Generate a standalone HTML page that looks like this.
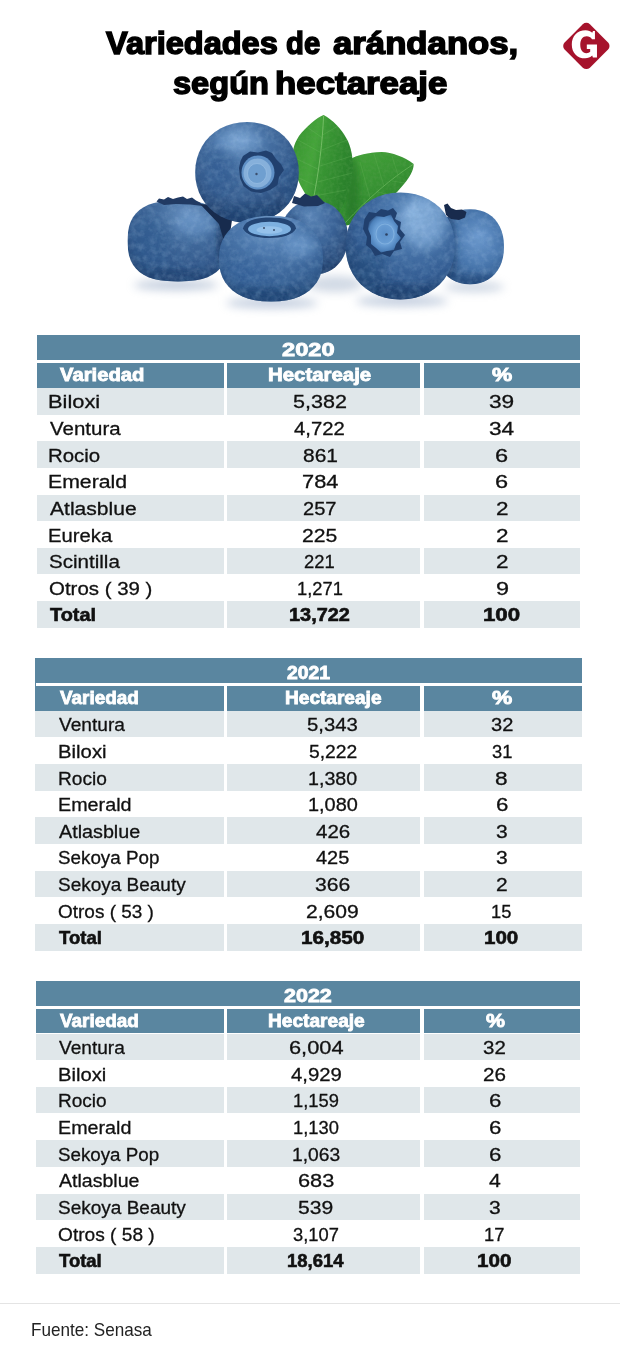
<!DOCTYPE html>
<html lang="es"><head><meta charset="utf-8"><title>Variedades de arándanos, según hectareaje</title>
<style>
html,body{margin:0;padding:0;background:#fff}
body{width:620px;height:1357px;position:relative;overflow:hidden;font-family:"Liberation Sans",sans-serif}
.t{position:absolute;line-height:1;white-space:nowrap;transform-origin:0 0}
.r{position:absolute}
svg{position:absolute;left:0;top:0}
</style></head><body>
<svg width="620" height="330" viewBox="0 0 620 330">
<defs><radialGradient id="gA" cx="0.45" cy="0.3" r="0.72" fx="0.42" fy="0.16"><stop offset="0" stop-color="#7098c6"/><stop offset="0.3" stop-color="#4a74a7"/><stop offset="0.7" stop-color="#355b8d"/><stop offset="1" stop-color="#1d3b66"/></radialGradient><radialGradient id="gB" cx="0.55" cy="0.28" r="0.8" fx="0.6" fy="0.14"><stop offset="0" stop-color="#6890c0"/><stop offset="0.35" stop-color="#446d9f"/><stop offset="0.72" stop-color="#31578a"/><stop offset="1" stop-color="#1d3d68"/></radialGradient><radialGradient id="gC" cx="0.5" cy="0.26" r="0.8" fx="0.5" fy="0.08"><stop offset="0" stop-color="#7ea6d2"/><stop offset="0.3" stop-color="#4f7bb0"/><stop offset="0.7" stop-color="#386296"/><stop offset="1" stop-color="#1f4370"/></radialGradient><radialGradient id="gD" cx="0.45" cy="0.3" r="0.8" fx="0.45" fy="0.2"><stop offset="0" stop-color="#5a84b6"/><stop offset="0.45" stop-color="#3a6296"/><stop offset="1" stop-color="#1d3a65"/></radialGradient><radialGradient id="gE" cx="0.6" cy="0.32" r="0.74" fx="0.64" fy="0.2"><stop offset="0" stop-color="#80a9d6"/><stop offset="0.3" stop-color="#4d7aaf"/><stop offset="0.7" stop-color="#335c92"/><stop offset="1" stop-color="#1c3c68"/></radialGradient><radialGradient id="gF" cx="0.6" cy="0.42" r="0.72" fx="0.62" fy="0.38"><stop offset="0" stop-color="#6e9bd0"/><stop offset="0.5" stop-color="#4876ad"/><stop offset="1" stop-color="#254b7c"/></radialGradient><radialGradient id="calE" cx="0.5" cy="0.5" r="0.55" fx="0.5" fy="0.5"><stop offset="0" stop-color="#5a8fc9"/><stop offset="0.55" stop-color="#6a9fd6"/><stop offset="0.85" stop-color="#4c80ba"/><stop offset="1" stop-color="#2b4f80"/></radialGradient><radialGradient id="cal" cx="0.5" cy="0.5" r="0.5" fx="0.5" fy="0.5"><stop offset="0" stop-color="#6a9ccf"/><stop offset="0.5" stop-color="#7fb0de"/><stop offset="0.8" stop-color="#5a8cc2"/><stop offset="1" stop-color="#2b4f80"/></radialGradient>
<linearGradient id="lf1" x1="0" y1="0" x2="1" y2="0.35"><stop offset="0" stop-color="#36912f"/><stop offset="0.42" stop-color="#45a53a"/><stop offset="0.55" stop-color="#3a9834"/><stop offset="1" stop-color="#2a812b"/></linearGradient>
<linearGradient id="lf2" x1="0.1" y1="0" x2="0.7" y2="1"><stop offset="0" stop-color="#46a53a"/><stop offset="0.55" stop-color="#369132"/><stop offset="1" stop-color="#277a28"/></linearGradient>
<filter id="b3" x="-30%" y="-30%" width="160%" height="160%"><feGaussianBlur stdDeviation="3"/></filter>
<filter id="b5" x="-40%" y="-40%" width="180%" height="180%"><feGaussianBlur stdDeviation="5"/></filter>
<filter id="b6" x="-30%" y="-80%" width="160%" height="260%"><feGaussianBlur stdDeviation="5"/></filter>
<filter id="b1" x="-20%" y="-20%" width="140%" height="140%"><feGaussianBlur stdDeviation="1"/></filter>
<filter id="texL" x="0" y="0" width="100%" height="100%"><feTurbulence type="fractalNoise" baseFrequency="0.16" numOctaves="3" seed="7" result="n"/><feColorMatrix in="n" type="matrix" values="0 0 0 0 0.62  0 0 0 0 0.80  0 0 0 0 0.98  2.0 0 0 0 -0.8"/><feComposite in2="SourceGraphic" operator="in"/></filter>
<filter id="texD" x="0" y="0" width="100%" height="100%"><feTurbulence type="fractalNoise" baseFrequency="0.13" numOctaves="3" seed="23" result="n"/><feColorMatrix in="n" type="matrix" values="0 0 0 0 0.10  0 0 0 0 0.24  0 0 0 0 0.45  0 2.2 0 0 -0.95"/><feComposite in2="SourceGraphic" operator="in"/></filter>
<filter id="lt" x="0" y="0" width="100%" height="100%"><feTurbulence type="fractalNoise" baseFrequency="0.3" numOctaves="2" seed="3" result="n"/><feColorMatrix in="n" type="matrix" values="0 0 0 0 0.1  0 0 0 0 0.35  0 0 0 0 0.08  1.5 0 0 0 -0.55"/><feComposite in2="SourceGraphic" operator="in"/></filter>

<clipPath id="cA"><path d="M298.8 172.4 L298.4 179.5 L297.1 186.1 L295.0 192.4 L292.1 198.3 L288.5 203.7 L284.1 208.5 L279.1 212.7 L273.6 216.3 L267.6 219.1 L261.1 221.1 L254.3 222.4 L247.0 222.8 L239.7 222.4 L232.9 221.1 L226.4 219.1 L220.4 216.3 L214.9 212.7 L209.9 208.5 L205.5 203.7 L201.9 198.3 L199.0 192.4 L196.9 186.1 L195.6 179.5 L195.2 172.4 L195.6 165.3 L196.9 158.7 L199.0 152.4 L201.9 146.5 L205.5 141.1 L209.9 136.3 L214.9 132.1 L220.4 128.5 L226.4 125.7 L232.9 123.7 L239.7 122.4 L247.0 122.0 L254.3 122.4 L261.1 123.7 L267.6 125.7 L273.6 128.5 L279.1 132.1 L284.1 136.3 L288.5 141.1 L292.1 146.5 L295.0 152.4 L297.1 158.7 L298.4 165.3Z"/></clipPath>
<clipPath id="cB"><path d="M228.3 241.0 L228.0 249.4 L227.0 255.3 L225.3 260.3 L223.0 264.7 L220.1 268.6 L216.5 271.9 L212.3 274.8 L207.5 277.2 L202.0 279.0 L195.8 280.3 L188.5 281.1 L178.0 281.4 L167.5 281.1 L160.2 280.3 L154.0 279.0 L148.5 277.2 L143.7 274.8 L139.5 271.9 L135.9 268.6 L133.0 264.7 L130.7 260.3 L129.0 255.3 L128.0 249.4 L127.7 241.0 L128.0 232.6 L129.0 226.7 L130.7 221.7 L133.0 217.3 L135.9 213.4 L139.5 210.1 L143.7 207.2 L148.5 204.8 L154.0 203.0 L160.2 201.7 L167.5 200.9 L178.0 200.6 L188.5 200.9 L195.8 201.7 L202.0 203.0 L207.5 204.8 L212.3 207.2 L216.5 210.1 L220.1 213.4 L223.0 217.3 L225.3 221.7 L227.0 226.7 L228.0 232.6Z"/></clipPath>
<clipPath id="cC"><path d="M323.0 258.8 L322.6 266.1 L321.5 272.0 L319.5 277.4 L316.9 282.2 L313.5 286.6 L309.5 290.5 L304.8 293.8 L299.5 296.6 L293.6 298.8 L287.1 300.3 L279.9 301.3 L271.0 301.6 L262.1 301.3 L254.9 300.3 L248.4 298.8 L242.5 296.6 L237.2 293.8 L232.5 290.5 L228.5 286.6 L225.1 282.2 L222.5 277.4 L220.5 272.0 L219.4 266.1 L219.0 258.8 L219.4 251.5 L220.5 245.6 L222.5 240.2 L225.1 235.4 L228.5 231.0 L232.5 227.1 L237.2 223.8 L242.5 221.0 L248.4 218.8 L254.9 217.3 L262.1 216.3 L271.0 216.0 L279.9 216.3 L287.1 217.3 L293.6 218.8 L299.5 221.0 L304.8 223.8 L309.5 227.1 L313.5 231.0 L316.9 235.4 L319.5 240.2 L321.5 245.6 L322.6 251.5Z"/></clipPath>
<clipPath id="cD"><path d="M348.0 237.5 L347.7 242.8 L346.9 247.7 L345.5 252.3 L343.6 256.6 L341.3 260.6 L338.4 264.1 L335.2 267.2 L331.6 269.8 L327.6 271.8 L323.4 273.3 L318.9 274.2 L314.0 274.5 L309.1 274.2 L304.6 273.3 L300.4 271.8 L296.4 269.8 L292.8 267.2 L289.6 264.1 L286.7 260.6 L284.4 256.6 L282.5 252.3 L281.1 247.7 L280.3 242.8 L280.0 237.5 L280.3 232.2 L281.1 227.3 L282.5 222.7 L284.4 218.4 L286.7 214.4 L289.6 210.9 L292.8 207.8 L296.4 205.2 L300.4 203.2 L304.6 201.7 L309.1 200.8 L314.0 200.5 L318.9 200.8 L323.4 201.7 L327.6 203.2 L331.6 205.2 L335.2 207.8 L338.4 210.9 L341.3 214.4 L343.6 218.4 L345.5 222.7 L346.9 227.3 L347.7 232.2Z"/></clipPath>
<clipPath id="cE"><path d="M455.0 246.0 L454.6 253.7 L453.2 260.7 L451.0 267.4 L448.0 273.6 L444.2 279.3 L439.6 284.4 L434.4 288.8 L428.6 292.6 L422.2 295.5 L415.4 297.7 L408.2 299.0 L400.3 299.4 L392.4 299.0 L385.2 297.7 L378.4 295.5 L372.0 292.6 L366.2 288.8 L361.0 284.4 L356.4 279.3 L352.6 273.6 L349.6 267.4 L347.4 260.7 L346.0 253.7 L345.6 246.0 L346.0 238.3 L347.4 231.3 L349.6 224.6 L352.6 218.4 L356.4 212.7 L361.0 207.6 L366.2 203.2 L372.0 199.4 L378.4 196.5 L385.2 194.3 L392.4 193.0 L400.3 192.6 L408.2 193.0 L415.4 194.3 L422.2 196.5 L428.6 199.4 L434.4 203.2 L439.6 207.6 L444.2 212.7 L448.0 218.4 L451.0 224.6 L453.2 231.3 L454.6 238.3Z"/></clipPath>
<clipPath id="cF"><path d="M504.0 246.7 L503.7 252.6 L502.9 257.7 L501.6 262.4 L499.8 266.7 L497.5 270.6 L494.8 274.1 L491.7 277.1 L488.1 279.6 L484.2 281.6 L480.0 283.0 L475.3 283.9 L470.0 284.2 L464.7 283.9 L460.0 283.0 L455.8 281.6 L451.9 279.6 L448.3 277.1 L445.2 274.1 L442.5 270.6 L440.2 266.7 L438.4 262.4 L437.1 257.7 L436.3 252.6 L436.0 246.7 L436.3 240.8 L437.1 235.7 L438.4 231.0 L440.2 226.7 L442.5 222.8 L445.2 219.3 L448.3 216.3 L451.9 213.8 L455.8 211.8 L460.0 210.4 L464.7 209.5 L470.0 209.2 L475.3 209.5 L480.0 210.4 L484.2 211.8 L488.1 213.8 L491.7 216.3 L494.8 219.3 L497.5 222.8 L499.8 226.7 L501.6 231.0 L502.9 235.7 L503.7 240.8Z"/></clipPath>
</defs>
<g filter="url(#b6)" opacity="0.5">
<ellipse cx="176" cy="285" rx="42" ry="5" fill="#8096b8"/>
<ellipse cx="272" cy="303" rx="46" ry="5" fill="#7f96ba"/>
<ellipse cx="335" cy="284" rx="28" ry="8" fill="#a3b3ca"/>
<ellipse cx="402" cy="301" rx="46" ry="5" fill="#7f96ba"/>
<ellipse cx="474" cy="287" rx="30" ry="4.500" fill="#94a7c2"/>
</g>
<clipPath id="cl2"><path d="M351 159 C357 155 368 152.500 381.600 152 C392 152.500 404 156.500 413.600 164 C414 170 409.500 178 401 187.500 C392 198 380 208 366 217 C358 222 350 225 344 226 L334 214 C344 200 349.500 186 351 159Z"/></clipPath><clipPath id="cl1"><path d="M323.6 115 C317 117.500 306 127 299 136 C293 145 291.500 154 293.500 164 C296 179 303 192 314 206 L338 214 C345 203 350.500 191 352.600 174 C354 160 351 146 346.500 138.500 C341 128.500 333 120 323.600 115Z"/></clipPath>
<path d="M351 159 C357 155 368 152.500 381.600 152 C392 152.500 404 156.500 413.600 164 C414 170 409.500 178 401 187.500 C392 198 380 208 366 217 C358 222 350 225 344 226 L334 214 C344 200 349.500 186 351 159Z" fill="url(#lf2)"/>
<g clip-path="url(#cl2)"><rect x="330" y="148" width="90" height="82" fill="#fff" filter="url(#lt)" opacity="0.5"/><ellipse cx="352" cy="190" rx="7" ry="34" fill="#1f6a22" opacity="0.5" filter="url(#b3)"/></g>
<path d="M413 164.500 C392 178 368 198 345 223" stroke="#84c872" stroke-width="0.9" fill="none" opacity="0.55"/>
<path d="M398 175 L392 156 M384 186 L374 154 M370 198 L360 162 M392 181 L405 183 M378 192 L393 196 M364 204 L377 209" stroke="#7cc26a" stroke-width="0.6" fill="none" opacity="0.35"/>
<path d="M323.6 115 C317 117.500 306 127 299 136 C293 145 291.500 154 293.500 164 C296 179 303 192 314 206 L338 214 C345 203 350.500 191 352.600 174 C354 160 351 146 346.500 138.500 C341 128.500 333 120 323.600 115Z" fill="url(#lf1)"/>
<g clip-path="url(#cl1)"><rect x="288" y="112" width="70" height="105" fill="#fff" filter="url(#lt)" opacity="0.5"/></g>
<path d="M323.600 116 C322.500 140 319.500 170 312 206" stroke="#8fce7c" stroke-width="1" fill="none" opacity="0.65"/>
<path d="M322.500 138 L307 127 M321.500 153 L298 140 M319.500 170 L295 158 M316.500 186 L299 178 M322.700 135 L338 126 M321.800 150 L347 140 M320 166 L352 156 M317.500 182 L352 173 M314.500 196 L346 190" stroke="#7cc26a" stroke-width="0.6" fill="none" opacity="0.4"/>
<g><path d="M348.0 237.5 L347.7 242.8 L346.9 247.7 L345.5 252.3 L343.6 256.6 L341.3 260.6 L338.4 264.1 L335.2 267.2 L331.6 269.8 L327.6 271.8 L323.4 273.3 L318.9 274.2 L314.0 274.5 L309.1 274.2 L304.6 273.3 L300.4 271.8 L296.4 269.8 L292.8 267.2 L289.6 264.1 L286.7 260.6 L284.4 256.6 L282.5 252.3 L281.1 247.7 L280.3 242.8 L280.0 237.5 L280.3 232.2 L281.1 227.3 L282.5 222.7 L284.4 218.4 L286.7 214.4 L289.6 210.9 L292.8 207.8 L296.4 205.2 L300.4 203.2 L304.6 201.7 L309.1 200.8 L314.0 200.5 L318.9 200.8 L323.4 201.7 L327.6 203.2 L331.6 205.2 L335.2 207.8 L338.4 210.9 L341.3 214.4 L343.6 218.4 L345.5 222.7 L346.9 227.3 L347.7 232.2Z" fill="url(#gD)"/><g clip-path="url(#cD)"><ellipse cx="290" cy="250" rx="16" ry="34" fill="#1c3a66" opacity="0.55" filter="url(#b3)"/><ellipse cx="330" cy="272" rx="24" ry="8" fill="#1c3a66" opacity="0.5" filter="url(#b3)"/><rect x="278" y="198" width="74" height="80" fill="#fff" filter="url(#texL)" opacity="0.18"/><rect x="278" y="198" width="74" height="80" fill="#fff" filter="url(#texD)" opacity="0.3"/></g><path d="M292 203 L294 196 L300 198 L305 193.500 L311 196.500 L317 195 L321 199 L325 203 L318 206 L304 206.500 Z" fill="#1e355c"/></g>
<g><path d="M504.0 246.7 L503.7 252.6 L502.9 257.7 L501.6 262.4 L499.8 266.7 L497.5 270.6 L494.8 274.1 L491.7 277.1 L488.1 279.6 L484.2 281.6 L480.0 283.0 L475.3 283.9 L470.0 284.2 L464.7 283.9 L460.0 283.0 L455.8 281.6 L451.9 279.6 L448.3 277.1 L445.2 274.1 L442.5 270.6 L440.2 266.7 L438.4 262.4 L437.1 257.7 L436.3 252.6 L436.0 246.7 L436.3 240.8 L437.1 235.7 L438.4 231.0 L440.2 226.7 L442.5 222.8 L445.2 219.3 L448.3 216.3 L451.9 213.8 L455.8 211.8 L460.0 210.4 L464.7 209.5 L470.0 209.2 L475.3 209.5 L480.0 210.4 L484.2 211.8 L488.1 213.8 L491.7 216.3 L494.8 219.3 L497.5 222.8 L499.8 226.7 L501.6 231.0 L502.9 235.7 L503.7 240.8Z" fill="url(#gF)"/><g clip-path="url(#cF)"><ellipse cx="444" cy="250" rx="12" ry="40" fill="#193560" opacity="0.6" filter="url(#b3)"/><ellipse cx="472" cy="282" rx="30" ry="7" fill="#1f4170" opacity="0.55" filter="url(#b3)"/><rect x="434" y="206" width="74" height="82" fill="#fff" filter="url(#texL)" opacity="0.18"/><rect x="434" y="206" width="74" height="82" fill="#fff" filter="url(#texD)" opacity="0.3"/></g><path d="M444 205 L447.500 203.500 L451 208 L456 210 L462 209.500 L466.500 212 L465 217.500 L459 220 L451 219 L446 215 Z" fill="#182b4d"/></g>
<g><path d="M228.3 241.0 L228.0 249.4 L227.0 255.3 L225.3 260.3 L223.0 264.7 L220.1 268.6 L216.5 271.9 L212.3 274.8 L207.5 277.2 L202.0 279.0 L195.8 280.3 L188.5 281.1 L178.0 281.4 L167.5 281.1 L160.2 280.3 L154.0 279.0 L148.5 277.2 L143.7 274.8 L139.5 271.9 L135.9 268.6 L133.0 264.7 L130.7 260.3 L129.0 255.3 L128.0 249.4 L127.7 241.0 L128.0 232.6 L129.0 226.7 L130.7 221.7 L133.0 217.3 L135.9 213.4 L139.5 210.1 L143.7 207.2 L148.5 204.8 L154.0 203.0 L160.2 201.7 L167.5 200.9 L178.0 200.6 L188.5 200.9 L195.8 201.7 L202.0 203.0 L207.5 204.8 L212.3 207.2 L216.5 210.1 L220.1 213.4 L223.0 217.3 L225.3 221.7 L227.0 226.7 L228.0 232.6Z" fill="url(#gB)"/><g clip-path="url(#cB)"><ellipse cx="150" cy="245" rx="20" ry="26" fill="#2f5a8e" opacity="0.55" filter="url(#b5)"/><ellipse cx="172" cy="278" rx="40" ry="8" fill="#214574" opacity="0.65" filter="url(#b3)"/><ellipse cx="226" cy="240" rx="8" ry="30" fill="#183358" opacity="0.75" filter="url(#b3)"/><ellipse cx="196" cy="224" rx="20" ry="12" fill="#7aa9dc" opacity="0.4" filter="url(#b5)"/><rect x="126" y="198" width="104" height="86" fill="#fff" filter="url(#texL)" opacity="0.18"/><rect x="126" y="198" width="104" height="86" fill="#fff" filter="url(#texD)" opacity="0.3"/></g><path d="M156.500 201.500 L159 198.500 L164 199.500 L168 197 L173 199 L178 197.500 L183 196.500 L187 199 L192 197.500 L196 200.500 L200 202.500 L203 206 L190 204.500 L176 204 L164 205 Z" fill="#213a63"/></g>
<path d="M200 204 L214 205 L232 220 L230 234 L224 241 L219 224 Z" fill="#172b4d"/>
<g><path d="M298.8 172.4 L298.4 179.5 L297.1 186.1 L295.0 192.4 L292.1 198.3 L288.5 203.7 L284.1 208.5 L279.1 212.7 L273.6 216.3 L267.6 219.1 L261.1 221.1 L254.3 222.4 L247.0 222.8 L239.7 222.4 L232.9 221.1 L226.4 219.1 L220.4 216.3 L214.9 212.7 L209.9 208.5 L205.5 203.7 L201.9 198.3 L199.0 192.4 L196.9 186.1 L195.6 179.5 L195.2 172.4 L195.6 165.3 L196.9 158.7 L199.0 152.4 L201.9 146.5 L205.5 141.1 L209.9 136.3 L214.9 132.1 L220.4 128.5 L226.4 125.7 L232.9 123.7 L239.7 122.4 L247.0 122.0 L254.3 122.4 L261.1 123.7 L267.6 125.7 L273.6 128.5 L279.1 132.1 L284.1 136.3 L288.5 141.1 L292.1 146.5 L295.0 152.4 L297.1 158.7 L298.4 165.3Z" fill="url(#gA)"/><g clip-path="url(#cA)"><ellipse cx="219" cy="172" rx="15" ry="22" fill="#2d588f" opacity="0.6" filter="url(#b5)"/><ellipse cx="256" cy="216" rx="36" ry="9" fill="#1e4272" opacity="0.65" filter="url(#b3)"/><ellipse cx="290" cy="185" rx="8" ry="26" fill="#2a548a" opacity="0.45" filter="url(#b3)"/><ellipse cx="238" cy="141" rx="24" ry="10" fill="#86b3e3" opacity="0.4" filter="url(#b5)"/><rect x="194" y="121" width="108" height="104" fill="#fff" filter="url(#texL)" opacity="0.18"/><rect x="194" y="121" width="108" height="104" fill="#fff" filter="url(#texD)" opacity="0.3"/></g><path d="M243 156 L250 151.500 L258 152.500 L266 150.500 L272 153 L276 159 L281 164 L284 170 L279 177 L277.500 185 L270 190 L261 193 L251 191.500 L243.500 186 L240 178 L239 168 L240.500 161 Z" fill="#21406e"/><ellipse cx="258" cy="172.500" rx="16.500" ry="17" fill="#5f90c6"/><ellipse cx="257.500" cy="173" rx="14" ry="14.500" fill="#86b0db"/><ellipse cx="257" cy="173.500" rx="9.500" ry="10" fill="#6f9fd0"/><ellipse cx="257" cy="173.500" rx="9.500" ry="10" fill="none" stroke="#a5c8ea" stroke-width="1" opacity="0.5"/><circle cx="256.500" cy="174" r="1.2" fill="#3b4f6e"/></g>
<g><path d="M323.0 258.8 L322.6 266.1 L321.5 272.0 L319.5 277.4 L316.9 282.2 L313.5 286.6 L309.5 290.5 L304.8 293.8 L299.5 296.6 L293.6 298.8 L287.1 300.3 L279.9 301.3 L271.0 301.6 L262.1 301.3 L254.9 300.3 L248.4 298.8 L242.5 296.6 L237.2 293.8 L232.5 290.5 L228.5 286.6 L225.1 282.2 L222.5 277.4 L220.5 272.0 L219.4 266.1 L219.0 258.8 L219.4 251.5 L220.5 245.6 L222.5 240.2 L225.1 235.4 L228.5 231.0 L232.5 227.1 L237.2 223.8 L242.5 221.0 L248.4 218.8 L254.9 217.3 L262.1 216.3 L271.0 216.0 L279.9 216.3 L287.1 217.3 L293.6 218.8 L299.5 221.0 L304.8 223.8 L309.5 227.1 L313.5 231.0 L316.9 235.4 L319.5 240.2 L321.5 245.6 L322.6 251.5Z" fill="url(#gC)"/><g clip-path="url(#cC)"><ellipse cx="246" cy="272" rx="22" ry="14" fill="#335f98" opacity="0.5" filter="url(#b5)"/><ellipse cx="274" cy="297" rx="42" ry="8" fill="#1f4372" opacity="0.65" filter="url(#b3)"/><ellipse cx="300" cy="246" rx="16" ry="12" fill="#8ab8e8" opacity="0.4" filter="url(#b5)"/><rect x="218" y="215" width="107" height="88" fill="#fff" filter="url(#texL)" opacity="0.18"/><rect x="218" y="215" width="107" height="88" fill="#fff" filter="url(#texD)" opacity="0.3"/></g><path d="M243 228.500 C245 220.500 256 217.500 270 217.500 C284 217.500 295 220.500 296 228.500 C293 235 282 238 269 238 C256 238 246 235 243 228.500Z" fill="#234574"/><ellipse cx="269.500" cy="229" rx="21.500" ry="7.200" fill="#7db0e0"/><ellipse cx="269.500" cy="230" rx="13" ry="3.800" fill="#9cc7ee" opacity="0.8"/><circle cx="264" cy="228" r="1" fill="#3b4f6e"/><circle cx="274" cy="230" r="1" fill="#3b4f6e"/></g>
<g><path d="M455.0 246.0 L454.6 253.7 L453.2 260.7 L451.0 267.4 L448.0 273.6 L444.2 279.3 L439.6 284.4 L434.4 288.8 L428.6 292.6 L422.2 295.5 L415.4 297.7 L408.2 299.0 L400.3 299.4 L392.4 299.0 L385.2 297.7 L378.4 295.5 L372.0 292.6 L366.2 288.8 L361.0 284.4 L356.4 279.3 L352.6 273.6 L349.6 267.4 L347.4 260.7 L346.0 253.7 L345.6 246.0 L346.0 238.3 L347.4 231.3 L349.6 224.6 L352.6 218.4 L356.4 212.7 L361.0 207.6 L366.2 203.2 L372.0 199.4 L378.4 196.5 L385.2 194.3 L392.4 193.0 L400.3 192.6 L408.2 193.0 L415.4 194.3 L422.2 196.5 L428.6 199.4 L434.4 203.2 L439.6 207.6 L444.2 212.7 L448.0 218.4 L451.0 224.6 L453.2 231.3 L454.6 238.3Z" fill="url(#gE)"/><g clip-path="url(#cE)"><ellipse cx="368" cy="268" rx="18" ry="24" fill="#26507f" opacity="0.55" filter="url(#b5)"/><ellipse cx="405" cy="294" rx="44" ry="9" fill="#1c3f6e" opacity="0.65" filter="url(#b3)"/><ellipse cx="424" cy="222" rx="22" ry="27" fill="#9ac2ec" opacity="0.5" filter="url(#b5)"/><rect x="344" y="191" width="114" height="112" fill="#fff" filter="url(#texL)" opacity="0.18"/><rect x="344" y="191" width="114" height="112" fill="#fff" filter="url(#texD)" opacity="0.3"/></g><path d="M364.500 219 L369 212 L376 213 L381 209 L388 210.500 L393 208 L397 213 L395 219 L401 222 L400 229 L405 235 L400 242 L402 249 L394 251 L390 257 L382 254 L375 256 L371 249 L366 245 L367 237 L363 229 Z" fill="#21406e"/><path d="M369 222 L376 216 L384 217 L391 214.500 L394 221 L398 226 L397 233 L401 238 L396 244 L394 250 L387 251 L381 252.500 L376 248 L371 244 L371 236 L368 229 Z" fill="url(#calE)"/><ellipse cx="385" cy="234" rx="9" ry="10" fill="none" stroke="#9cc5ec" stroke-width="1.1" opacity="0.45"/><circle cx="386.500" cy="234.500" r="1.3" fill="#2c4263"/></g>
<rect x="568.5" y="28.1" width="35.700" height="35.700" rx="5" fill="#a6132c" transform="rotate(45 586.35 45.95)"/>
<path d="M594.94 31.00 L594.94 39.13 L592.00 39.13 C590.65 37.10 588.95 36.19 586.69 36.19 C582.74 36.19 580.26 39.58 580.26 44.77 C580.26 49.74 582.52 53.13 586.36 53.13 C588.16 53.13 589.29 52.68 590.19 51.77 L590.19 49.07 L586.81 49.07 L586.81 44.55 L596.97 44.55 L596.97 57.42 L592.90 57.42 L592.23 55.61 C590.31 57.42 587.94 58.32 585.23 58.32 C577.10 58.32 571.79 52.90 571.79 44.44 C571.79 35.97 577.32 30.21 585.57 30.21 C588.39 30.21 590.65 31.23 592.23 32.69 L593.02 31.00Z" fill="#fff"/>
</svg>
<section class="tbl" aria-label="Tabla 2020">
<div class="r" style="left:37.30px;top:335.00px;width:542.80px;height:24.70px;background:#5a86a0"></div>
<div class="r" style="left:37.30px;top:363.10px;width:542.80px;height:24.90px;background:#5a86a0"></div>
<div class="r" style="left:37.30px;top:388.00px;width:542.80px;height:26.63px;background:#e0e7ea"></div>
<div class="r" style="left:37.30px;top:441.26px;width:542.80px;height:26.63px;background:#e0e7ea"></div>
<div class="r" style="left:37.30px;top:494.52px;width:542.80px;height:26.63px;background:#e0e7ea"></div>
<div class="r" style="left:37.30px;top:547.78px;width:542.80px;height:26.63px;background:#e0e7ea"></div>
<div class="r" style="left:37.30px;top:601.04px;width:542.80px;height:26.63px;background:#e0e7ea"></div>
<div class="r" style="left:223.80px;top:363.10px;width:3.60px;height:265.57px;background:#fff"></div>
<div class="r" style="left:419.90px;top:363.10px;width:4.10px;height:265.57px;background:#fff"></div>
<div class="t" style="left:282.43px;top:342.00px;font-size:17.9px;transform:scaleX(1.3211);color:#fff;font-weight:700;-webkit-text-stroke:0.8px #fff;">2020</div>
<div class="t" style="left:59.70px;top:367.00px;font-size:17.5px;transform:scaleX(1.1575);color:#fff;font-weight:700;-webkit-text-stroke:0.8px #fff;">Variedad</div>
<div class="t" style="left:268.37px;top:367.00px;font-size:17.5px;transform:scaleX(1.1659);color:#fff;font-weight:700;-webkit-text-stroke:0.8px #fff;">Hectareaje</div>
<div class="t" style="left:491.89px;top:367.00px;font-size:17.5px;transform:scaleX(1.3022);color:#fff;font-weight:700;-webkit-text-stroke:0.8px #fff;">%</div>
<div class="t" style="left:47.80px;top:393.00px;font-size:18.7px;transform:scaleX(1.1685);color:#111;-webkit-text-stroke:0.3px #111;">Biloxi</div>
<div class="t" style="left:293.19px;top:393.00px;font-size:18.7px;transform:scaleX(1.1537);color:#111;-webkit-text-stroke:0.3px #111;">5,382</div>
<div class="t" style="left:489.20px;top:393.00px;font-size:18.7px;transform:scaleX(1.2126);color:#111;-webkit-text-stroke:0.3px #111;">39</div>
<div class="t" style="left:49.50px;top:420.00px;font-size:18.7px;transform:scaleX(1.0959);color:#111;-webkit-text-stroke:0.3px #111;">Ventura</div>
<div class="t" style="left:294.49px;top:420.00px;font-size:18.7px;transform:scaleX(1.0860);color:#111;-webkit-text-stroke:0.3px #111;">4,722</div>
<div class="t" style="left:489.20px;top:420.00px;font-size:18.7px;transform:scaleX(1.2128);color:#111;-webkit-text-stroke:0.3px #111;">34</div>
<div class="t" style="left:47.92px;top:447.00px;font-size:18.7px;transform:scaleX(1.0915);color:#111;-webkit-text-stroke:0.3px #111;">Rocio</div>
<div class="t" style="left:303.36px;top:447.00px;font-size:18.7px;transform:scaleX(1.1187);color:#111;-webkit-text-stroke:0.3px #111;">861</div>
<div class="t" style="left:495.47px;top:447.00px;font-size:18.7px;transform:scaleX(1.2603);color:#111;-webkit-text-stroke:0.3px #111;">6</div>
<div class="t" style="left:47.85px;top:473.00px;font-size:18.7px;transform:scaleX(1.1367);color:#111;-webkit-text-stroke:0.3px #111;">Emerald</div>
<div class="t" style="left:301.86px;top:473.00px;font-size:18.7px;transform:scaleX(1.1671);color:#111;-webkit-text-stroke:0.3px #111;">784</div>
<div class="t" style="left:495.47px;top:473.00px;font-size:18.7px;transform:scaleX(1.2603);color:#111;-webkit-text-stroke:0.3px #111;">6</div>
<div class="t" style="left:49.55px;top:500.00px;font-size:18.7px;transform:scaleX(1.1273);color:#111;-webkit-text-stroke:0.3px #111;">Atlasblue</div>
<div class="t" style="left:302.54px;top:500.00px;font-size:18.7px;transform:scaleX(1.0763);color:#111;-webkit-text-stroke:0.3px #111;">257</div>
<div class="t" style="left:495.52px;top:500.00px;font-size:18.7px;transform:scaleX(1.2039);color:#111;-webkit-text-stroke:0.3px #111;">2</div>
<div class="t" style="left:47.93px;top:527.00px;font-size:18.7px;transform:scaleX(1.0834);color:#111;-webkit-text-stroke:0.3px #111;">Eureka</div>
<div class="t" style="left:301.89px;top:527.00px;font-size:18.7px;transform:scaleX(1.1322);color:#111;-webkit-text-stroke:0.3px #111;">225</div>
<div class="t" style="left:495.52px;top:527.00px;font-size:18.7px;transform:scaleX(1.2039);color:#111;-webkit-text-stroke:0.3px #111;">2</div>
<div class="t" style="left:48.62px;top:553.00px;font-size:18.7px;transform:scaleX(1.1002);color:#111;-webkit-text-stroke:0.3px #111;">Scintilla</div>
<div class="t" style="left:304.23px;top:553.00px;font-size:18.7px;transform:scaleX(0.9844);color:#111;-webkit-text-stroke:0.3px #111;">221</div>
<div class="t" style="left:495.52px;top:553.00px;font-size:18.7px;transform:scaleX(1.2039);color:#111;-webkit-text-stroke:0.3px #111;">2</div>
<div class="t" style="left:48.63px;top:580.00px;font-size:18.7px;transform:scaleX(1.0938);color:#111;-webkit-text-stroke:0.3px #111;">Otros ( 39 )</div>
<div class="t" style="left:297.12px;top:580.00px;font-size:18.7px;transform:scaleX(0.9800);color:#111;-webkit-text-stroke:0.3px #111;">1,271</div>
<div class="t" style="left:495.60px;top:580.00px;font-size:18.7px;transform:scaleX(1.2535);color:#111;-webkit-text-stroke:0.3px #111;">9</div>
<div class="t" style="left:49.50px;top:606.00px;font-size:18.139px;transform:scaleX(1.0977);color:#111;font-weight:700;-webkit-text-stroke:0.6px #111;">Total</div>
<div class="t" style="left:288.56px;top:606.00px;font-size:18.139px;transform:scaleX(1.0979);color:#111;font-weight:700;-webkit-text-stroke:0.6px #111;">13,722</div>
<div class="t" style="left:483.01px;top:606.00px;font-size:18.139px;transform:scaleX(1.2275);color:#111;font-weight:700;-webkit-text-stroke:0.6px #111;">100</div>
</section>
<section class="tbl" aria-label="Tabla 2021">
<div class="r" style="left:35.10px;top:658.00px;width:546.80px;height:25.00px;background:#5a86a0"></div>
<div class="r" style="left:35.10px;top:686.30px;width:546.80px;height:24.40px;background:#5a86a0"></div>
<div class="r" style="left:35.10px;top:710.70px;width:546.80px;height:26.66px;background:#e0e7ea"></div>
<div class="r" style="left:35.10px;top:764.02px;width:546.80px;height:26.66px;background:#e0e7ea"></div>
<div class="r" style="left:35.10px;top:817.34px;width:546.80px;height:26.66px;background:#e0e7ea"></div>
<div class="r" style="left:35.10px;top:870.66px;width:546.80px;height:26.66px;background:#e0e7ea"></div>
<div class="r" style="left:35.10px;top:923.98px;width:546.80px;height:26.66px;background:#e0e7ea"></div>
<div class="r" style="left:223.80px;top:686.30px;width:3.50px;height:265.34px;background:#fff"></div>
<div class="r" style="left:420.10px;top:686.30px;width:3.90px;height:265.34px;background:#fff"></div>
<div class="t" style="left:286.57px;top:665.00px;font-size:17.9px;transform:scaleX(1.0838);color:#fff;font-weight:700;-webkit-text-stroke:0.8px #fff;">2021</div>
<div class="t" style="left:59.51px;top:690.00px;font-size:17.5px;transform:scaleX(1.0794);color:#fff;font-weight:700;-webkit-text-stroke:0.8px #fff;">Variedad</div>
<div class="t" style="left:285.06px;top:690.00px;font-size:17.5px;transform:scaleX(1.0899);color:#fff;font-weight:700;-webkit-text-stroke:0.8px #fff;">Hectareaje</div>
<div class="t" style="left:491.89px;top:690.00px;font-size:17.5px;transform:scaleX(1.3022);color:#fff;font-weight:700;-webkit-text-stroke:0.8px #fff;">%</div>
<div class="t" style="left:59.20px;top:716.00px;font-size:18.7px;transform:scaleX(1.0230);color:#111;-webkit-text-stroke:0.3px #111;">Ventura</div>
<div class="t" style="left:307.34px;top:716.00px;font-size:18.7px;transform:scaleX(1.0872);color:#111;-webkit-text-stroke:0.3px #111;">5,343</div>
<div class="t" style="left:490.60px;top:716.00px;font-size:18.7px;transform:scaleX(1.0747);color:#111;-webkit-text-stroke:0.3px #111;">32</div>
<div class="t" style="left:57.62px;top:743.00px;font-size:18.7px;transform:scaleX(1.0874);color:#111;-webkit-text-stroke:0.3px #111;">Biloxi</div>
<div class="t" style="left:308.68px;top:743.00px;font-size:18.7px;transform:scaleX(1.0341);color:#111;-webkit-text-stroke:0.3px #111;">5,222</div>
<div class="t" style="left:491.67px;top:743.00px;font-size:18.7px;transform:scaleX(0.9800);color:#111;-webkit-text-stroke:0.3px #111;">31</div>
<div class="t" style="left:57.72px;top:770.00px;font-size:18.7px;transform:scaleX(1.0234);color:#111;-webkit-text-stroke:0.3px #111;">Rocio</div>
<div class="t" style="left:307.98px;top:770.00px;font-size:18.7px;transform:scaleX(1.0516);color:#111;-webkit-text-stroke:0.3px #111;">1,380</div>
<div class="t" style="left:495.29px;top:770.00px;font-size:18.7px;transform:scaleX(1.2110);color:#111;-webkit-text-stroke:0.3px #111;">8</div>
<div class="t" style="left:57.67px;top:796.00px;font-size:18.7px;transform:scaleX(1.0561);color:#111;-webkit-text-stroke:0.3px #111;">Emerald</div>
<div class="t" style="left:307.96px;top:796.00px;font-size:18.7px;transform:scaleX(1.0650);color:#111;-webkit-text-stroke:0.3px #111;">1,080</div>
<div class="t" style="left:495.54px;top:796.00px;font-size:18.7px;transform:scaleX(1.1909);color:#111;-webkit-text-stroke:0.3px #111;">6</div>
<div class="t" style="left:59.25px;top:823.00px;font-size:18.7px;transform:scaleX(1.0564);color:#111;-webkit-text-stroke:0.3px #111;">Atlasblue</div>
<div class="t" style="left:316.09px;top:823.00px;font-size:18.7px;transform:scaleX(1.0979);color:#111;-webkit-text-stroke:0.3px #111;">426</div>
<div class="t" style="left:495.86px;top:823.00px;font-size:18.7px;transform:scaleX(1.1258);color:#111;-webkit-text-stroke:0.3px #111;">3</div>
<div class="t" style="left:58.40px;top:849.00px;font-size:18.7px;transform:scaleX(1.0055);color:#111;-webkit-text-stroke:0.3px #111;">Sekoya Pop</div>
<div class="t" style="left:316.10px;top:849.00px;font-size:18.7px;transform:scaleX(1.0695);color:#111;-webkit-text-stroke:0.3px #111;">425</div>
<div class="t" style="left:495.86px;top:849.00px;font-size:18.7px;transform:scaleX(1.1258);color:#111;-webkit-text-stroke:0.3px #111;">3</div>
<div class="t" style="left:58.40px;top:876.00px;font-size:18.7px;transform:scaleX(1.0155);color:#111;-webkit-text-stroke:0.3px #111;">Sekoya Beauty</div>
<div class="t" style="left:315.16px;top:876.00px;font-size:18.7px;transform:scaleX(1.1285);color:#111;-webkit-text-stroke:0.3px #111;">366</div>
<div class="t" style="left:495.60px;top:876.00px;font-size:18.7px;transform:scaleX(1.1221);color:#111;-webkit-text-stroke:0.3px #111;">2</div>
<div class="t" style="left:58.40px;top:903.00px;font-size:18.7px;transform:scaleX(1.0150);color:#111;-webkit-text-stroke:0.3px #111;">Otros ( 53 )</div>
<div class="t" style="left:306.09px;top:903.00px;font-size:18.7px;transform:scaleX(1.1284);color:#111;-webkit-text-stroke:0.3px #111;">2,609</div>
<div class="t" style="left:490.96px;top:903.00px;font-size:18.7px;transform:scaleX(0.9800);color:#111;-webkit-text-stroke:0.3px #111;">15</div>
<div class="t" style="left:59.21px;top:929.00px;font-size:18.139px;transform:scaleX(1.0212);color:#111;font-weight:700;-webkit-text-stroke:0.6px #111;">Total</div>
<div class="t" style="left:300.61px;top:929.00px;font-size:18.139px;transform:scaleX(1.1408);color:#111;font-weight:700;-webkit-text-stroke:0.6px #111;">16,850</div>
<div class="t" style="left:484.02px;top:929.00px;font-size:18.139px;transform:scaleX(1.1325);color:#111;font-weight:700;-webkit-text-stroke:0.6px #111;">100</div>
</section>
<section class="tbl" aria-label="Tabla 2022">
<div class="r" style="left:36.40px;top:981.40px;width:543.40px;height:24.50px;background:#5a86a0"></div>
<div class="r" style="left:36.40px;top:1009.10px;width:543.40px;height:24.40px;background:#5a86a0"></div>
<div class="r" style="left:36.40px;top:1033.50px;width:543.40px;height:26.67px;background:#e0e7ea"></div>
<div class="r" style="left:36.40px;top:1086.84px;width:543.40px;height:26.67px;background:#e0e7ea"></div>
<div class="r" style="left:36.40px;top:1140.18px;width:543.40px;height:26.67px;background:#e0e7ea"></div>
<div class="r" style="left:36.40px;top:1193.52px;width:543.40px;height:26.67px;background:#e0e7ea"></div>
<div class="r" style="left:36.40px;top:1246.86px;width:543.40px;height:26.67px;background:#e0e7ea"></div>
<div class="r" style="left:223.80px;top:1009.10px;width:3.50px;height:265.43px;background:#fff"></div>
<div class="r" style="left:420.10px;top:1009.10px;width:3.90px;height:265.43px;background:#fff"></div>
<div class="t" style="left:284.00px;top:988.00px;font-size:17.9px;transform:scaleX(1.2017);color:#fff;font-weight:700;-webkit-text-stroke:0.8px #fff;">2022</div>
<div class="t" style="left:59.51px;top:1013.00px;font-size:17.5px;transform:scaleX(1.0794);color:#fff;font-weight:700;-webkit-text-stroke:0.8px #fff;">Variedad</div>
<div class="t" style="left:268.36px;top:1013.00px;font-size:17.5px;transform:scaleX(1.0922);color:#fff;font-weight:700;-webkit-text-stroke:0.8px #fff;">Hectareaje</div>
<div class="t" style="left:486.12px;top:1013.00px;font-size:17.5px;transform:scaleX(1.2209);color:#fff;font-weight:700;-webkit-text-stroke:0.8px #fff;">%</div>
<div class="t" style="left:59.20px;top:1039.00px;font-size:18.7px;transform:scaleX(1.0214);color:#111;-webkit-text-stroke:0.3px #111;">Ventura</div>
<div class="t" style="left:288.56px;top:1039.00px;font-size:18.7px;transform:scaleX(1.1665);color:#111;-webkit-text-stroke:0.3px #111;">6,004</div>
<div class="t" style="left:483.38px;top:1039.00px;font-size:18.7px;transform:scaleX(1.0956);color:#111;-webkit-text-stroke:0.3px #111;">32</div>
<div class="t" style="left:57.63px;top:1066.00px;font-size:18.7px;transform:scaleX(1.0826);color:#111;-webkit-text-stroke:0.3px #111;">Biloxi</div>
<div class="t" style="left:290.79px;top:1066.00px;font-size:18.7px;transform:scaleX(1.0871);color:#111;-webkit-text-stroke:0.3px #111;">4,929</div>
<div class="t" style="left:483.12px;top:1066.00px;font-size:18.7px;transform:scaleX(1.1037);color:#111;-webkit-text-stroke:0.3px #111;">26</div>
<div class="t" style="left:57.73px;top:1092.00px;font-size:18.7px;transform:scaleX(1.0190);color:#111;-webkit-text-stroke:0.3px #111;">Rocio</div>
<div class="t" style="left:292.79px;top:1092.00px;font-size:18.7px;transform:scaleX(0.9800);color:#111;-webkit-text-stroke:0.3px #111;">1,159</div>
<div class="t" style="left:488.74px;top:1092.00px;font-size:18.7px;transform:scaleX(1.1909);color:#111;-webkit-text-stroke:0.3px #111;">6</div>
<div class="t" style="left:57.67px;top:1119.00px;font-size:18.7px;transform:scaleX(1.0546);color:#111;-webkit-text-stroke:0.3px #111;">Emerald</div>
<div class="t" style="left:292.73px;top:1119.00px;font-size:18.7px;transform:scaleX(0.9800);color:#111;-webkit-text-stroke:0.3px #111;">1,130</div>
<div class="t" style="left:488.74px;top:1119.00px;font-size:18.7px;transform:scaleX(1.1909);color:#111;-webkit-text-stroke:0.3px #111;">6</div>
<div class="t" style="left:58.41px;top:1146.00px;font-size:18.7px;transform:scaleX(1.0035);color:#111;-webkit-text-stroke:0.3px #111;">Sekoya Pop</div>
<div class="t" style="left:291.71px;top:1146.00px;font-size:18.7px;transform:scaleX(1.0292);color:#111;-webkit-text-stroke:0.3px #111;">1,063</div>
<div class="t" style="left:488.74px;top:1146.00px;font-size:18.7px;transform:scaleX(1.1909);color:#111;-webkit-text-stroke:0.3px #111;">6</div>
<div class="t" style="left:59.25px;top:1172.00px;font-size:18.7px;transform:scaleX(1.0459);color:#111;-webkit-text-stroke:0.3px #111;">Atlasblue</div>
<div class="t" style="left:297.76px;top:1172.00px;font-size:18.7px;transform:scaleX(1.1646);color:#111;-webkit-text-stroke:0.3px #111;">683</div>
<div class="t" style="left:488.97px;top:1172.00px;font-size:18.7px;transform:scaleX(1.1331);color:#111;-webkit-text-stroke:0.3px #111;">4</div>
<div class="t" style="left:58.39px;top:1199.00px;font-size:18.7px;transform:scaleX(1.0171);color:#111;-webkit-text-stroke:0.3px #111;">Sekoya Beauty</div>
<div class="t" style="left:298.41px;top:1199.00px;font-size:18.7px;transform:scaleX(1.1287);color:#111;-webkit-text-stroke:0.3px #111;">539</div>
<div class="t" style="left:489.06px;top:1199.00px;font-size:18.7px;transform:scaleX(1.1258);color:#111;-webkit-text-stroke:0.3px #111;">3</div>
<div class="t" style="left:58.39px;top:1226.00px;font-size:18.7px;transform:scaleX(1.0236);color:#111;-webkit-text-stroke:0.3px #111;">Otros ( 58 )</div>
<div class="t" style="left:292.71px;top:1226.00px;font-size:18.7px;transform:scaleX(0.9800);color:#111;-webkit-text-stroke:0.3px #111;">3,107</div>
<div class="t" style="left:484.08px;top:1226.00px;font-size:18.7px;transform:scaleX(0.9800);color:#111;-webkit-text-stroke:0.3px #111;">17</div>
<div class="t" style="left:59.22px;top:1252.00px;font-size:18.139px;transform:scaleX(1.0187);color:#111;font-weight:700;-webkit-text-stroke:0.6px #111;">Total</div>
<div class="t" style="left:287.25px;top:1252.00px;font-size:18.139px;transform:scaleX(1.0188);color:#111;font-weight:700;-webkit-text-stroke:0.6px #111;">18,614</div>
<div class="t" style="left:477.11px;top:1252.00px;font-size:18.139px;transform:scaleX(1.1360);color:#111;font-weight:700;-webkit-text-stroke:0.6px #111;">100</div>
</section>
<div class="r" style="left:35.10px;top:682.50px;width:1.30px;height:4.30px;background:#5a86a0"></div>
<header>
<div class="t" style="left:106.09px;top:28.00px;font-size:31.6px;transform:scaleX(1.0296);color:#000;font-weight:700;-webkit-text-stroke:1.5px #000;">Variedades</div>
<div class="t" style="left:286.38px;top:28.00px;font-size:31.6px;transform:scaleX(0.9269);color:#000;font-weight:700;-webkit-text-stroke:1.5px #000;">de</div>
<div class="t" style="left:332.69px;top:28.00px;font-size:31.6px;transform:scaleX(1.0992);color:#000;font-weight:700;-webkit-text-stroke:1.5px #000;">arándanos,</div>
<div class="t" style="left:173.11px;top:68.00px;font-size:31.6px;transform:scaleX(1.0315);color:#000;font-weight:700;-webkit-text-stroke:1.5px #000;">según</div>
<div class="t" style="left:275.40px;top:68.00px;font-size:31.6px;transform:scaleX(1.1026);color:#000;font-weight:700;-webkit-text-stroke:1.5px #000;">hectareaje</div>
</header>
<footer>
<div class="r" style="left:0.00px;top:1303.00px;width:620.00px;height:1.00px;background:#e4e4e4"></div>
<div class="t" style="left:31.13px;top:1321.00px;font-size:18.2px;transform:scaleX(0.9403);color:#222;">Fuente: Senasa</div>
</footer>
</body></html>
